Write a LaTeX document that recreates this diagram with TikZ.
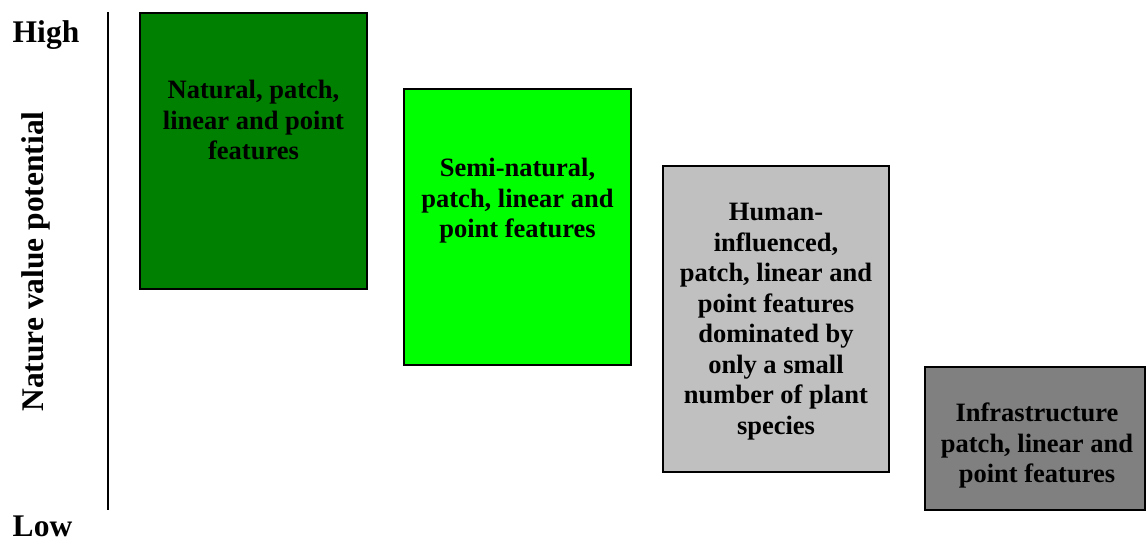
\documentclass[tikz,border=0pt]{standalone}
\usepackage{fontspec}
\setmainfont{Liberation Serif}
\begin{document}
\begin{tikzpicture}[x=1pt,y=1pt,
  box/.style={draw=black, line width=2pt, inner sep=0pt},
  boxtext/.style={anchor=base, inner sep=0pt, font=\fontsize{26.5}{30.5}\selectfont\bfseries},
  axistext/.style={inner sep=0pt, font=\fontsize{31.5}{36}\selectfont\bfseries}]
\useasboundingbox (0,0) rectangle (1146,544);
\definecolor{darkgreen}{RGB}{0,128,0}
\definecolor{brightgreen}{RGB}{0,255,0}
\definecolor{lightgray}{RGB}{192,192,192}
\definecolor{midgray}{RGB}{128,128,128}
% axis
\coordinate (axtop) at (108,532);
\coordinate (axbot) at (108,34);
\draw[line width=2pt] (axtop) -- (axbot);
\node[axistext, anchor=base] (high) at (46,501) {High};
\node[axistext, anchor=base] (low) at (42.5,8) {Low};
\node[axistext, anchor=base, rotate=90] (lab) at (43,282.5) {Nature value potential};
% boxes
\node[box, fill=darkgreen, minimum width=227pt, minimum height=276pt] (b1) at (253.5,393) {};
\node[box, fill=brightgreen, minimum width=227pt, minimum height=276pt] (b2) at (517.5,317) {};
\node[box, fill=lightgray, minimum width=226pt, minimum height=306pt] (b3) at (776,225) {};
\node[box, fill=midgray, minimum width=220pt, minimum height=143pt] (b4) at (1035,105.5) {};
% texts
\node[boxtext] (t1) at (253.5,445) {\parbox[t]{220pt}{\centering Natural, patch,\\linear and point\\features}};
\node[boxtext] (t2) at (517.5,367.3) {\parbox[t]{220pt}{\centering Semi-natural,\\patch, linear and\\point features}};
\node[boxtext] (t3) at (776,323) {\parbox[t]{220pt}{\centering Human-\\influenced,\\patch, linear and\\point features\\dominated by\\only a small\\number of plant\\species}};
\node[boxtext] (t4) at (1037,122.3) {\parbox[t]{220pt}{\centering Infrastructure\\patch, linear and\\point features}};
\end{tikzpicture}
\end{document}
